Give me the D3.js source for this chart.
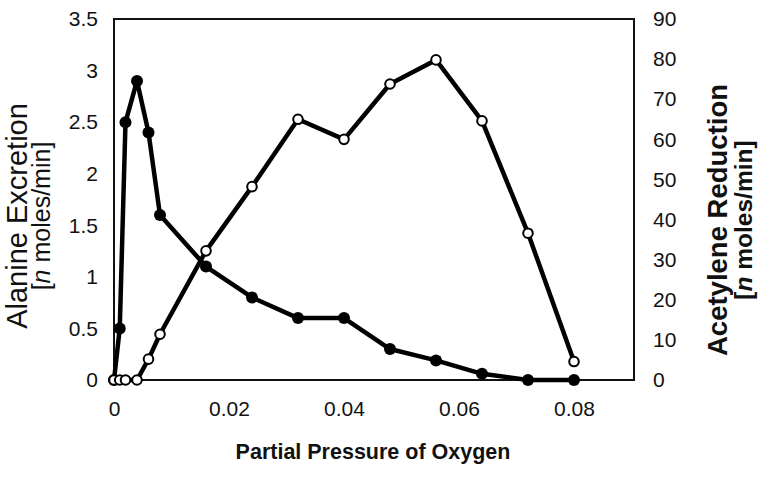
<!DOCTYPE html>
<html>
<head>
<meta charset="utf-8">
<script src="https://cdn.jsdelivr.net/npm/d3@7"></script>
<style>
  html, body { margin: 0; padding: 0; background: #fff; }
  svg { display: block; font-family: "Liberation Sans", Arial, Helvetica, sans-serif; }
</style>
</head>
<body>
<svg id="chart" width="764" height="481"></svg>
<script>
// ---- data ----
const oxygen = [0, 0.001, 0.002, 0.004, 0.006, 0.008, 0.016, 0.024, 0.032, 0.04, 0.048, 0.056, 0.064, 0.072, 0.08];
const alanine = [0, 0.5, 2.5, 2.9, 2.4, 1.6, 1.1, 0.8, 0.6, 0.6, 0.3, 0.19, 0.06, 0, 0];
const acetylene = [0, 0, 0, 0, 5.2, 11.4, 32.2, 48.2, 65, 60, 73.8, 79.8, 64.6, 36.6, 4.6];
const xTicks = [0, 0.02, 0.04, 0.06, 0.08];
const xTickLabels = ["0", "0.02", "0.04", "0.06", "0.08"];
const yLeftTicks = [0, 0.5, 1, 1.5, 2, 2.5, 3, 3.5];
const yLeftLabels = ["0", "0.5", "1", "1.5", "2", "2.5", "3", "3.5"];
const yRightTicks = [0, 10, 20, 30, 40, 50, 60, 70, 80, 90];
const yRightLabels = ["0", "10", "20", "30", "40", "50", "60", "70", "80", "90"];
const xTitle = "Partial Pressure of Oxygen";
const yLeftTitle = ["Alanine Excretion", "moles/min]"];
const yRightTitle = ["Acetylene Reduction", "moles/min]"];

// ---- layout ----
const svg = d3.select("#chart");
const L = 114, R = 634, T = 19, B = 380;
const x = d3.scaleLinear().domain([0, 0.09]).range([L, L + 0.09 / 0.02 * 115]);
const yL = d3.scaleLinear().domain([0, 3.5]).range([B, T]);
const yR = d3.scaleLinear().domain([0, 90]).range([B, T]);

// frame
svg.append("rect").attr("x", L).attr("y", T).attr("width", R - L).attr("height", B - T)
  .attr("fill", "none").attr("stroke", "#111").attr("stroke-width", 2);

// axes (labels only, no tick marks)
const axL = d3.axisLeft(yL).tickValues(yLeftTicks).tickFormat((d, i) => yLeftLabels[i]).tickSize(0).tickPadding(16);
const gL = svg.append("g").attr("transform", `translate(${L},0)`).call(axL);
const axR = d3.axisRight(yR).tickValues(yRightTicks).tickFormat((d, i) => yRightLabels[i]).tickSize(0).tickPadding(19);
const gR = svg.append("g").attr("transform", `translate(${R},0)`).call(axR);
const axB = d3.axisBottom(x).tickValues(xTicks).tickFormat((d, i) => xTickLabels[i]).tickSize(0).tickPadding(21);
const gB = svg.append("g").attr("transform", `translate(0,${B})`).call(axB);
[gL, gR, gB].forEach(g => {
  g.select(".domain").remove();
  g.selectAll("text").attr("font-size", 21).attr("fill", "#111")
    .attr("font-family", "'Liberation Sans', Arial, sans-serif");
});

// titles
svg.append("text").attr("x", 373).attr("y", 459).attr("text-anchor", "middle")
  .attr("font-size", 21.5).attr("font-weight", "bold").attr("fill", "#111").text(xTitle);

const lt = svg.append("text").attr("transform", "translate(27,216) rotate(-90)")
  .attr("text-anchor", "middle").attr("fill", "#111");
lt.append("tspan").attr("x", 0).attr("y", 0).attr("font-size", 29).text(yLeftTitle[0]);
const lt2 = lt.append("tspan").attr("x", 0).attr("y", 23).attr("font-size", 25);
lt2.append("tspan").text("[");
lt2.append("tspan").attr("font-style", "italic").text("n");
lt2.append("tspan").text(" " + yLeftTitle[1]);

const rt = svg.append("text").attr("transform", "translate(727,220) rotate(-90)")
  .attr("text-anchor", "middle").attr("font-weight", "bold").attr("fill", "#111");
rt.append("tspan").attr("x", 0).attr("y", 0).attr("font-size", 27.5).text(yRightTitle[0]);
const rt2 = rt.append("tspan").attr("x", 0).attr("y", 25).attr("font-size", 24.5);
rt2.append("tspan").text("[");
rt2.append("tspan").attr("font-style", "italic").text("n");
rt2.append("tspan").text(" " + yRightTitle[1]);

// series
const dA = oxygen.map((o, i) => [o, alanine[i]]);
const dC = oxygen.map((o, i) => [o, acetylene[i]]);

svg.append("path").datum(dA)
  .attr("d", d3.line().x(d => x(d[0])).y(d => yL(d[1])))
  .attr("fill", "none").attr("stroke", "#000").attr("stroke-width", 4.5).attr("stroke-linejoin", "round");
svg.append("g").selectAll("circle").data(dA).join("circle")
  .attr("cx", d => x(d[0])).attr("cy", d => yL(d[1])).attr("r", 6).attr("fill", "#000");

svg.append("path").datum(dC)
  .attr("d", d3.line().x(d => x(d[0])).y(d => yR(d[1])))
  .attr("fill", "none").attr("stroke", "#000").attr("stroke-width", 4.5).attr("stroke-linejoin", "round");
svg.append("g").selectAll("circle").data(dC).join("circle")
  .attr("cx", d => x(d[0])).attr("cy", d => yR(d[1])).attr("r", 4.8)
  .attr("fill", "#fff").attr("stroke", "#000").attr("stroke-width", 2);
</script>
</body>
</html>
